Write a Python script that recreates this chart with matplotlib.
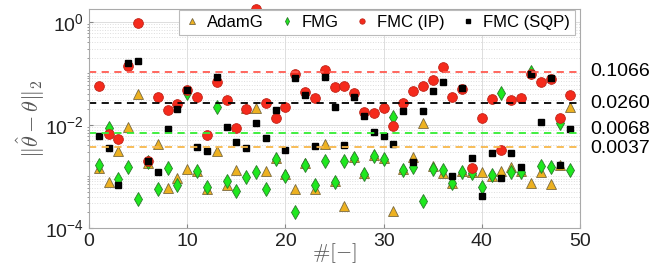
import numpy as np
import matplotlib.pyplot as plt
from matplotlib.ticker import FixedLocator, NullFormatter
import matplotlib.transforms as mtransforms

plt.rcParams['font.family'] = ['Liberation Sans', 'DejaVu Sans']
plt.rcParams['mathtext.fontset'] = 'custom'
plt.rcParams['mathtext.rm'] = 'Liberation Sans'
plt.rcParams['mathtext.it'] = 'Liberation Sans:italic'

# runs 1..49
runs = np.arange(1, 50)

adamg = [0.00144, 0.00079, 0.0031, 0.0092, 0.039, 0.0018, 0.0042, 0.00059, 0.00092, 0.00138,
         0.0013, 0.00056, 0.0031, 0.00069, 0.00134, 0.021, 0.021, 0.00128, 0.0023, 0.00112,
         0.00056, 0.0018, 0.00058, 0.0043, 0.0008, 0.00027, 0.0024, 0.00115, 0.0026, 0.0023,
         0.00021, 0.0014, 0.0024, 0.011, 0.0016, 0.00115, 0.00076, 0.00125, 0.0012, 0.0012,
         0.001, 0.0013, 0.0015, 0.0013, 0.00076, 0.0012, 0.0007, 0.0017, 0.022]
fmg = [0.00167, 0.0086, 0.00089, 0.00155, 0.00037, 0.0019, 0.00056, 0.00148, 0.00068, 0.042,
       0.00128, 0.00063, 0.0225, 0.00082, 0.00051, 0.00096, 0.0012, 0.00057, 0.0022, 0.001,
       0.0002, 0.0017, 0.00068, 0.002, 0.00077, 0.002, 0.0023, 0.0011, 0.0025, 0.0022,
       0.014, 0.00134, 0.00155, 0.00034, 0.0014, 0.00134, 0.00073, 0.0012, 0.00115, 0.00061,
       0.00105, 0.041, 0.0012, 0.0012, 0.105, 0.0016, 0.0015, 0.011, 0.00134]
fmc_ip = [0.057, 0.0066, 0.0053, 0.14, 0.95, 0.002, 0.035, 0.0195, 0.025, 0.048,
          0.035, 0.0064, 0.067, 0.031, 0.0085, 0.02, 1.76, 0.027, 0.0134, 0.022,
          0.097, 0.044, 0.033, 0.116, 0.054, 0.057, 0.041, 0.018, 0.0168, 0.021,
          0.0095, 0.027, 0.045, 0.057, 0.074, 0.13, 0.035, 0.05, 0.00144, 0.0134,
          0.032, 0.0033, 0.030, 0.033, 0.096, 0.069, 0.078, 0.0134, 0.038]
fmc_sqp = [0.0061, 0.0035, 0.00069, 0.16, 0.17, 0.002, 0.00124, 0.0082, 0.020, 0.047,
           0.0037, 0.0031, 0.084, 0.0092, 0.0047, 0.0035, 0.011, 0.0056, 0.0195, 0.0033,
           0.082, 0.038, 0.0039, 0.086, 0.0225, 0.0040, 0.034, 0.0148, 0.0074, 0.0062,
           0.0042, 0.0186, 0.0019, 0.0188, 0.046, 0.067, 0.001, 0.052, 0.0023, 0.00042,
           0.0028, 0.00092, 0.0028, 0.0015, 0.096, 0.0115, 0.08, 0.0017, 0.0082]

levels = [0.1066, 0.0260, 0.0068, 0.0037]
level_labels = ['0.1066', '0.0260', '0.0068', '0.0037']
level_colors = ['#ff5a50', '#000000', '#33ee33', '#f7b84b']

fig = plt.figure(figsize=(6.56, 2.66), dpi=100)
ax = fig.add_axes([0.1357, 0.1429, 0.7485, 0.8231])
ax.set_yscale('log')

ax.plot(runs, adamg, '^', ms=7, mfc='#EDB120', mec='#7a6a40', mew=0.6, ls='none', label='AdamG', clip_on=False)
ax.plot(runs, fmg, 'd', ms=7.5, mfc='#1ee81e', mec='#2a7a2a', mew=0.6, ls='none', label='FMG', clip_on=False)
ax.plot(runs, fmc_ip, 'o', ms=7, mfc='#f52a1c', mec='#c02418', mew=0.6, ls='none', label='FMC (IP)', clip_on=False)
ax.plot(runs, fmc_sqp, 's', ms=5, mfc='k', mec='k', ls='none', label='FMC (SQP)', clip_on=False)

trans = mtransforms.blended_transform_factory(ax.transAxes, ax.transData)
offsets = [0, 0, 3, -1]
for lv, lab, c, off in zip(levels, level_labels, level_colors, offsets):
    ax.axhline(lv, color=c, ls=(0, (4, 3)), lw=1.3)
    ax.annotate(lab, xy=(1.02, lv), xycoords=trans, xytext=(0, off), textcoords='offset points',
                ha='left', va='center', fontsize=14, annotation_clip=False)

ax.set_xlim(0, 50)
ax.set_ylim(1e-4, 1.76)
ax.set_xticks([0, 10, 20, 30, 40, 50])
ax.yaxis.set_major_locator(FixedLocator([1e-4, 1e-2, 1e0]))
ax.set_yticklabels(['$10^{-4}$', '$10^{-2}$', '$10^{0}$'])
minor = [m * 10.0 ** e for e in range(-4, 1) for m in range(1, 10) if not (m == 1 and e % 2 == 0)]
ax.yaxis.set_minor_locator(FixedLocator(minor))
ax.yaxis.set_minor_formatter(NullFormatter())
ax.tick_params(labelsize=14, direction='in', length=3, color='#888888', labelcolor='#222222')
ax.tick_params(which='minor', length=1.5, color='#888888')
ax.grid(True, which='major', color='#dddddd', lw=0.7)
ax.grid(True, which='minor', axis='y', color='#dddddd', ls=':', lw=0.7)
ax.set_axisbelow(True)
for s in ax.spines.values():
    s.set_color('#aaaaaa')
    s.set_linewidth(0.8)

ax.set_xlabel(r'$\#[-]$', fontsize=15, color='#555555', math_fontfamily='cm')
ax.xaxis.set_label_coords(0.5, -0.06)
ax.set_ylabel(r'$\|\hat{\theta}-\theta\|_2$', fontsize=16, color='#555555', math_fontfamily='cm')
ax.yaxis.set_label_coords(-0.085, 0.5)

leg = ax.legend(ncol=4, loc='upper right', bbox_to_anchor=(0.99, 0.995), borderaxespad=0,
                fontsize=12, markerscale=0.55, handlelength=1.0, handletextpad=0.4,
                columnspacing=0.9, borderpad=0.3, fancybox=False, framealpha=1,
                edgecolor='#bbbbbb')
leg.get_frame().set_linewidth(0.8)

fig.savefig('out.png', dpi=100)
